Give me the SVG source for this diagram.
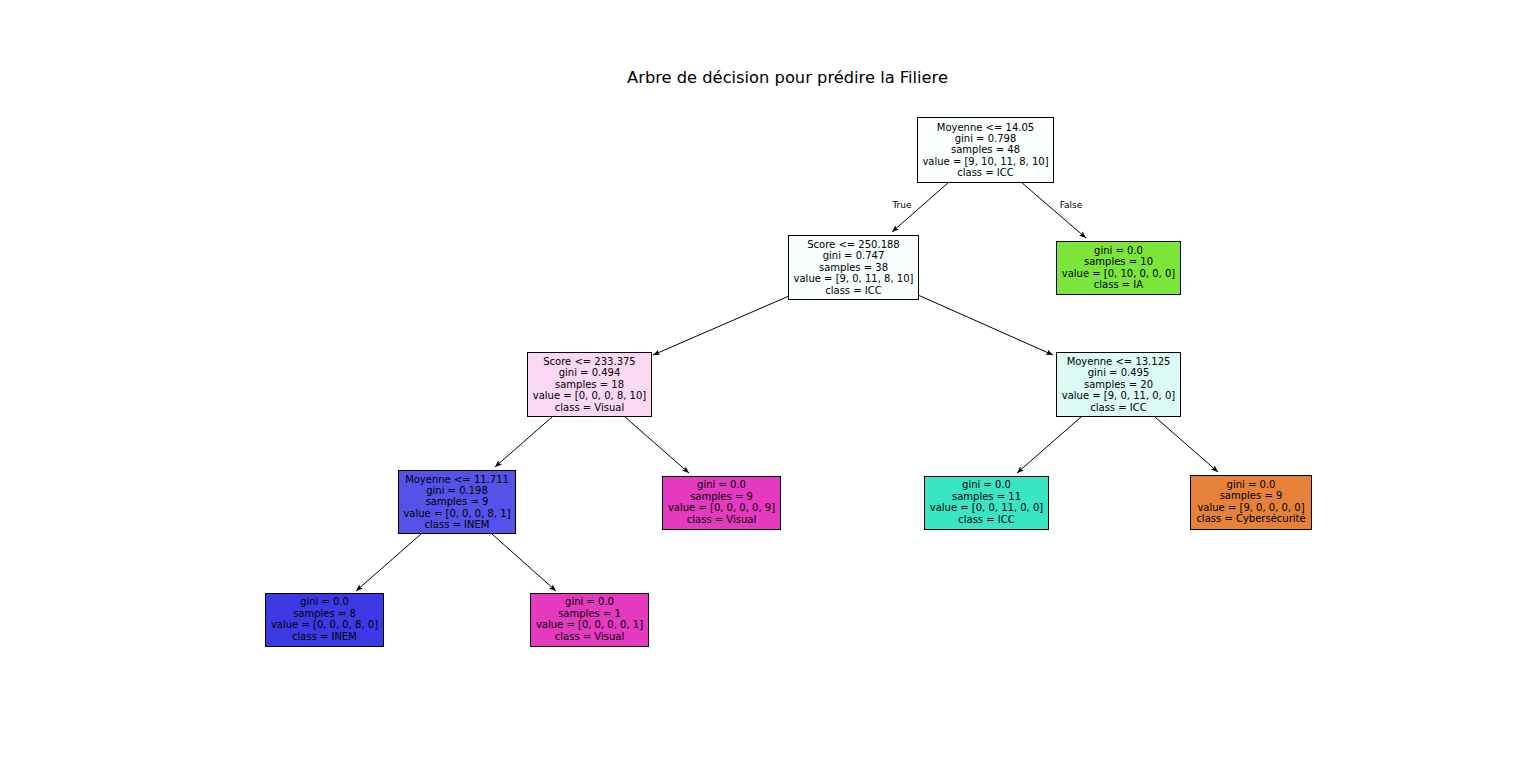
<svg xmlns="http://www.w3.org/2000/svg" width="1536" height="762" viewBox="0 0 1536 762">
  <style>
    .box { stroke: #000; stroke-width: 1; }
    .lbl { font-family: "DejaVu Sans", sans-serif; font-size: 10px; fill: #000; text-anchor: middle; }
    .edge { stroke: #000; stroke-width: 1; fill: none; marker-end: url(#head); }
    .elbl { font-family: "DejaVu Sans", sans-serif; font-size: 9px; fill: #000; text-anchor: middle; }
    .title { font-family: "DejaVu Sans", sans-serif; font-size: 16.3px; fill: #000; text-anchor: middle; }
  </style>
  <defs>
    <marker id="head" viewBox="0 0 10 10" refX="10" refY="5" markerWidth="7" markerHeight="7" markerUnits="userSpaceOnUse" orient="auto">
      <path d="M0,1 L10,5 L0,9 L2.5,5 Z" fill="#000"/>
    </marker>
  </defs>
  <rect width="1536" height="762" fill="#fff"/>

  <text class="title" x="787.5" y="83">Arbre de décision pour prédire la Filiere</text>

  <!-- connectors -->
  <g id="edges">
    <line class="edge" x1="949" y1="182" x2="892" y2="232"/>
    <line class="edge" x1="1021" y1="182" x2="1086" y2="238"/>
    <text class="elbl" x="902" y="208">True</text>
    <text class="elbl" x="1071" y="208">False</text>
    <line class="edge" x1="789" y1="296" x2="653" y2="355"/>
    <line class="edge" x1="918" y1="295" x2="1053" y2="355"/>
    <line class="edge" x1="552" y1="417" x2="495" y2="467"/>
    <line class="edge" x1="625" y1="417" x2="689" y2="473"/>
    <line class="edge" x1="1081" y1="417" x2="1017" y2="473"/>
    <line class="edge" x1="1155" y1="417" x2="1218" y2="472"/>
    <line class="edge" x1="421" y1="534" x2="356" y2="591"/>
    <line class="edge" x1="492" y1="534" x2="556" y2="591"/>
  </g>

  <!-- root split -->
  <g id="node0">
    <rect class="box" x="917.5" y="117.5" width="136" height="65" fill="#fafefd"/>
    <text class="lbl" x="985.5" y="130.5">Moyenne &lt;= 14.05</text>
    <text class="lbl" x="985.5" y="141.9">gini = 0.798</text>
    <text class="lbl" x="985.5" y="153.3">samples = 48</text>
    <text class="lbl" x="985.5" y="164.7">value = [9, 10, 11, 8, 10]</text>
    <text class="lbl" x="985.5" y="176.1">class = ICC</text>
  </g>

  <g id="node1">
    <rect class="box" x="788.5" y="235.5" width="130" height="64" fill="#f8fefd"/>
    <text class="lbl" x="853.5" y="248">Score &lt;= 250.188</text>
    <text class="lbl" x="853.5" y="259.4">gini = 0.747</text>
    <text class="lbl" x="853.5" y="270.8">samples = 38</text>
    <text class="lbl" x="853.5" y="282.2">value = [9, 0, 11, 8, 10]</text>
    <text class="lbl" x="853.5" y="293.6">class = ICC</text>
  </g>

  <g id="node_ia">
    <rect class="box" x="1056.5" y="241.5" width="124" height="53" fill="#7be539"/>
    <text class="lbl" x="1118.5" y="253.9">gini = 0.0</text>
    <text class="lbl" x="1118.5" y="265.3">samples = 10</text>
    <text class="lbl" x="1118.5" y="276.7">value = [0, 10, 0, 0, 0]</text>
    <text class="lbl" x="1118.5" y="288.1">class = IA</text>
  </g>

  <g id="node2">
    <rect class="box" x="527.5" y="352.5" width="124" height="64" fill="#fad7f2"/>
    <text class="lbl" x="589.5" y="365">Score &lt;= 233.375</text>
    <text class="lbl" x="589.5" y="376.4">gini = 0.494</text>
    <text class="lbl" x="589.5" y="387.8">samples = 18</text>
    <text class="lbl" x="589.5" y="399.2">value = [0, 0, 0, 8, 10]</text>
    <text class="lbl" x="589.5" y="410.6">class = Visual</text>
  </g>

  <g id="node3">
    <rect class="box" x="1056.5" y="352.5" width="124" height="64" fill="#dbfaf4"/>
    <text class="lbl" x="1118.5" y="365">Moyenne &lt;= 13.125</text>
    <text class="lbl" x="1118.5" y="376.4">gini = 0.495</text>
    <text class="lbl" x="1118.5" y="387.8">samples = 20</text>
    <text class="lbl" x="1118.5" y="399.2">value = [9, 0, 11, 0, 0]</text>
    <text class="lbl" x="1118.5" y="410.6">class = ICC</text>
  </g>

  <g id="node4">
    <rect class="box" x="398.5" y="470.5" width="117" height="63" fill="#5452e8"/>
    <text class="lbl" x="457" y="482.5">Moyenne &lt;= 11.711</text>
    <text class="lbl" x="457" y="493.9">gini = 0.198</text>
    <text class="lbl" x="457" y="505.3">samples = 9</text>
    <text class="lbl" x="457" y="516.7">value = [0, 0, 0, 8, 1]</text>
    <text class="lbl" x="457" y="528.1">class = INEM</text>
  </g>

  <g id="node_visual9">
    <rect class="box" x="662.5" y="476.5" width="118" height="53" fill="#e539c0"/>
    <text class="lbl" x="721.5" y="488.4">gini = 0.0</text>
    <text class="lbl" x="721.5" y="499.8">samples = 9</text>
    <text class="lbl" x="721.5" y="511.2">value = [0, 0, 0, 0, 9]</text>
    <text class="lbl" x="721.5" y="522.6">class = Visual</text>
  </g>

  <g id="node_icc">
    <rect class="box" x="924.5" y="476.5" width="124" height="53" fill="#39e5c5"/>
    <text class="lbl" x="986.5" y="488.4">gini = 0.0</text>
    <text class="lbl" x="986.5" y="499.8">samples = 11</text>
    <text class="lbl" x="986.5" y="511.2">value = [0, 0, 11, 0, 0]</text>
    <text class="lbl" x="986.5" y="522.6">class = ICC</text>
  </g>

  <g id="node_cyber">
    <rect class="box" x="1190.5" y="475.5" width="121" height="54" fill="#e58139"/>
    <text class="lbl" x="1251" y="487.9">gini = 0.0</text>
    <text class="lbl" x="1251" y="499.3">samples = 9</text>
    <text class="lbl" x="1251" y="510.7">value = [9, 0, 0, 0, 0]</text>
    <text class="lbl" x="1251" y="522.1">class = Cybersécurité</text>
  </g>

  <g id="node_inem">
    <rect class="box" x="265.5" y="593.5" width="118" height="53" fill="#3c39e5"/>
    <text class="lbl" x="324.5" y="605.4">gini = 0.0</text>
    <text class="lbl" x="324.5" y="616.8">samples = 8</text>
    <text class="lbl" x="324.5" y="628.2">value = [0, 0, 0, 8, 0]</text>
    <text class="lbl" x="324.5" y="639.6">class = INEM</text>
  </g>

  <g id="node_visual1">
    <rect class="box" x="530.5" y="593.5" width="118" height="53" fill="#e539c0"/>
    <text class="lbl" x="589.5" y="605.4">gini = 0.0</text>
    <text class="lbl" x="589.5" y="616.8">samples = 1</text>
    <text class="lbl" x="589.5" y="628.2">value = [0, 0, 0, 0, 1]</text>
    <text class="lbl" x="589.5" y="639.6">class = Visual</text>
  </g>
</svg>
